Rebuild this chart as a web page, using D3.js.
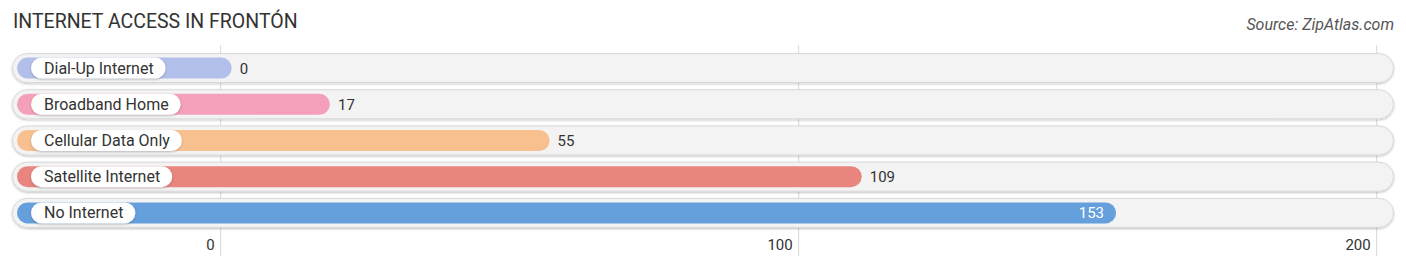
<!DOCTYPE html>
<html><head><meta charset="utf-8">
<script src="https://cdn.jsdelivr.net/npm/d3@7"></script>
<style>body{margin:0;background:#fff;font-family:Roboto,"Open Sans",sans-serif;}</style>
</head><body><svg id="c" width="1406" height="269"></svg>
<script>
const categories = ["Dial-Up Internet","Broadband Home","Cellular Data Only","Satellite Internet","No Internet"];
const values = [0,17,55,109,153];
const colors = ["#b3bfeb","#f5a0bb","#f8c08f","#e8857f","#659fdc"];
const tickValues = [0,100,200];

const svg = d3.select("#c");
const defs = svg.append("defs");
const f = defs.append("filter").attr("id","sh").attr("x","-10%").attr("y","-30%").attr("width","120%").attr("height","160%");
f.append("feDropShadow").attr("dx",0).attr("dy",1).attr("stdDeviation",1.2).attr("flood-color","#000").attr("flood-opacity",0.25);

const x = d3.scaleLinear().domain([0,200]).range([220.7,1376.7]);
const y = d3.scaleBand().domain(categories).range([50,231]).paddingInner(0);

svg.append("text").attr("x",13).attr("y",28).text("INTERNET ACCESS IN FRONTÓN")
  .attr("font-size",19.5).attr("fill","#333").attr("font-family","Roboto, sans-serif");
svg.append("text").attr("x",1394).attr("y",30).attr("text-anchor","end").text("Source: ZipAtlas.com")
  .attr("font-size",16).attr("font-style","italic").attr("fill","#555");

// gridlines
svg.append("g").selectAll("line").data(tickValues).join("line")
  .attr("x1",d=>x(d)).attr("x2",d=>x(d)).attr("y1",45).attr("y2",256)
  .attr("stroke","#d8d8d8").attr("stroke-width",1);

const rows = svg.append("g").selectAll("g").data(categories).join("g")
  .attr("transform",d=>`translate(0,${y(d)+y.bandwidth()/2})`);

rows.append("rect").attr("x",12.5).attr("y",-14.5).attr("width",1381).attr("height",29).attr("rx",14.5)
  .attr("fill","#f3f3f3").attr("stroke","#d9d9d9").attr("stroke-width",1).attr("filter","url(#sh)");

rows.append("rect").attr("x",17).attr("y",-10.5)
  .attr("width",(d,i)=>x(values[i])+11-17).attr("height",21).attr("rx",10.5)
  .attr("fill",(d,i)=>colors[i]);

const lbl = rows.append("g");
lbl.append("text").attr("x",44).attr("y",5.5).text(d=>d)
  .attr("font-size",16).attr("fill","#333");
lbl.each(function(){
  const g = d3.select(this);
  const w = g.select("text").node().getComputedTextLength();
  g.insert("rect","text").attr("x",31).attr("y",-10.5).attr("width",w+25).attr("height",21).attr("rx",10.5)
    .attr("fill","#fff").attr("filter","url(#sh)");
});

rows.append("text")
  .attr("x",(d,i)=> i===4 ? x(values[i])+11-12 : x(values[i])+11+8)
  .attr("y",5.5).attr("text-anchor",(d,i)=> i===4 ? "end":"start")
  .attr("font-size",15).attr("fill",(d,i)=> i===4 ? "#fff" : "#333")
  .text((d,i)=>values[i]);

svg.append("g").selectAll("text").data(tickValues).join("text")
  .attr("x",d=>x(d)-6).attr("y",250).attr("text-anchor","end")
  .attr("font-size",15).attr("fill","#333").text(d=>d);
</script></body></html>
